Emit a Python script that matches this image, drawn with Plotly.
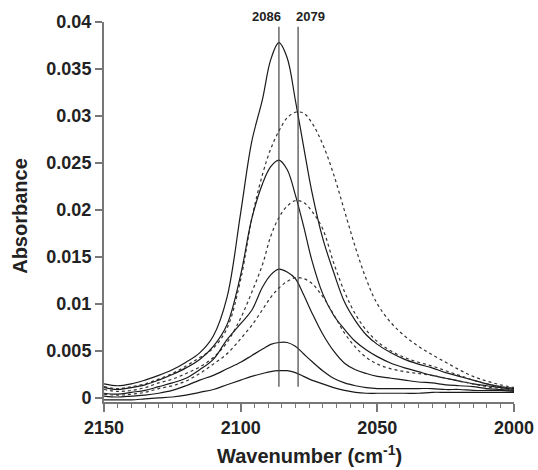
import plotly.graph_objects as go

wavenumber = [2150, 2145, 2140, 2135, 2130, 2125, 2120, 2115, 2110, 2105, 2100, 2096, 2092, 2089,
              2086, 2083, 2080, 2077, 2074, 2070, 2066, 2062, 2058, 2054, 2050, 2045, 2040, 2035,
              2030, 2025, 2020, 2015, 2010, 2005, 2000]

solid_1 = [0.0015, 0.0013, 0.0015, 0.0019, 0.0024, 0.0030, 0.0038, 0.0048, 0.0066, 0.0107, 0.0197, 0.0272, 0.0318, 0.0360,
           0.0378, 0.0362, 0.0317, 0.0268, 0.0220, 0.0170, 0.0134, 0.0102, 0.0082, 0.0067, 0.0057, 0.0048, 0.0041, 0.0036,
           0.0032, 0.0027, 0.0023, 0.0019, 0.0015, 0.0012, 0.0010]
dashed_1 = [0.0012, 0.0010, 0.0012, 0.0015, 0.0020, 0.0026, 0.0034, 0.0043, 0.0053, 0.0074, 0.0126, 0.0190, 0.0238, 0.0265,
            0.0284, 0.0298, 0.0304, 0.0303, 0.0293, 0.0270, 0.0238, 0.0199, 0.0160, 0.0126, 0.0100, 0.0080, 0.0066, 0.0055,
            0.0046, 0.0038, 0.0030, 0.0023, 0.0018, 0.0014, 0.0011]
solid_2 = [0.0011, 0.0009, 0.0011, 0.0014, 0.0019, 0.0025, 0.0032, 0.0041, 0.0055, 0.0078, 0.0131, 0.0190, 0.0228, 0.0246,
           0.0253, 0.0243, 0.0216, 0.0183, 0.0147, 0.0111, 0.0088, 0.0073, 0.0060, 0.0051, 0.0044, 0.0037, 0.0032, 0.0028,
           0.0024, 0.0021, 0.0018, 0.0015, 0.0013, 0.0011, 0.0009]
dashed_2 = [0.0009, 0.0007, 0.0008, 0.0011, 0.0016, 0.0020, 0.0026, 0.0033, 0.0043, 0.0059, 0.0085, 0.0112, 0.0142, 0.0172,
            0.0192, 0.0204, 0.0210, 0.0208, 0.0199, 0.0180, 0.0144, 0.0113, 0.0089, 0.0072, 0.0060, 0.0050, 0.0043, 0.0038,
            0.0034, 0.0029, 0.0024, 0.0019, 0.0015, 0.0012, 0.0010]
solid_3 = [0.0005, 0.0004, 0.0006, 0.0008, 0.0012, 0.0016, 0.0021, 0.0030, 0.0041, 0.0062, 0.0079, 0.0093, 0.0118, 0.0131,
           0.0137, 0.0134, 0.0127, 0.0110, 0.0091, 0.0068, 0.0050, 0.0037, 0.0030, 0.0026, 0.0023, 0.0021, 0.0019, 0.0017,
           0.0016, 0.0014, 0.0013, 0.0012, 0.0010, 0.0009, 0.0008]
dashed_3 = [0.0004, 0.0003, 0.0004, 0.0006, 0.0010, 0.0013, 0.0018, 0.0026, 0.0036, 0.0047, 0.0063, 0.0077, 0.0094, 0.0107,
            0.0117, 0.0124, 0.0128, 0.0127, 0.0122, 0.0108, 0.0089, 0.0069, 0.0054, 0.0043, 0.0036, 0.0031, 0.0028, 0.0026,
            0.0024, 0.0021, 0.0018, 0.0015, 0.0012, 0.0010, 0.0008]
solid_4 = [0.0002, 0.0001, 0.0002, 0.0003, 0.0005, 0.0008, 0.0013, 0.0019, 0.0024, 0.0031, 0.0038, 0.0045, 0.0052, 0.0057,
           0.0059, 0.0059, 0.0055, 0.0047, 0.0039, 0.0029, 0.0021, 0.0016, 0.0013, 0.0011, 0.0010, 0.0010, 0.0010, 0.0010,
           0.0010, 0.0009, 0.0009, 0.0008, 0.0008, 0.0008, 0.0007]
solid_5 = [-0.0002, -0.0002, -0.0002, -0.0001, 0.0000, 0.0001, 0.0003, 0.0006, 0.0009, 0.0014, 0.0019, 0.0023, 0.0026, 0.0028,
           0.0029, 0.0029, 0.0027, 0.0023, 0.0019, 0.0015, 0.0011, 0.0008, 0.0006, 0.0005, 0.0005, 0.0005, 0.0005, 0.0005,
           0.0006, 0.0006, 0.0006, 0.0006, 0.0006, 0.0006, 0.0006]

marker_positions = [2086, 2079]
marker_labels = ["2086", "2079"]
marker_span = [0.0012, 0.0395]

x_tickvals = [2150, 2100, 2050, 2000]
y_tickvals = [0, 0.005, 0.01, 0.015, 0.02, 0.025, 0.03, 0.035, 0.04]

FONT = "Liberation Sans, Arial, sans-serif"
fig = go.Figure()

series = [
    (solid_1, "solid"), (dashed_1, "dot"), (solid_2, "solid"), (dashed_2, "dot"),
    (solid_3, "solid"), (dashed_3, "dot"), (solid_4, "solid"), (solid_5, "solid"),
]
for vals, dash in series:
    fig.add_trace(go.Scatter(
        x=wavenumber, y=vals, mode="lines",
        line=dict(color="#1a1a1a" if dash == "solid" else "#333333", width=1.2, dash=dash,
                  shape="spline", smoothing=1.0),
        showlegend=False, hoverinfo="skip"))

for pos in marker_positions:
    fig.add_trace(go.Scatter(
        x=[pos, pos], y=marker_span, mode="lines",
        line=dict(color="#444444", width=1.2), showlegend=False, hoverinfo="skip"))

label_anchor = ["right", "left"]
label_shift = [4, -4]
for pos, lab, anc, sh in zip(marker_positions, marker_labels, label_anchor, label_shift):
    fig.add_annotation(x=pos, y=marker_span[1], yref="y", text=lab, showarrow=False,
                       xanchor=anc, xshift=sh, yanchor="bottom", yshift=1,
                       font=dict(family=FONT, size=13, color="#222", weight="bold"))

fig.add_annotation(xref="paper", yref="paper", x=(20 - 104) / 410, y=0.49, text="Absorbance", textangle=-90,
                   xanchor="center", yanchor="middle",
                   showarrow=False, font=dict(family=FONT, size=20, color="#222", weight="bold"))
fig.add_annotation(xref="paper", yref="paper", x=0.5, y=-(454 - 402) / 380, yanchor="middle",
                   text="Wavenumber (cm<sup>-1</sup>)",
                   showarrow=False, font=dict(family=FONT, size=20, color="#222", weight="bold"))

fig.update_layout(
    width=538, height=470,
    margin=dict(l=104, r=24, t=22, b=68),
    paper_bgcolor="white", plot_bgcolor="white",
    font=dict(family=FONT, size=18, color="#222"),
    xaxis=dict(range=[2150, 2000], tickvals=x_tickvals, ticks="outside", ticklen=8, tickwidth=1.5,
               tickcolor="#777", showline=True, linecolor="#777", linewidth=2, showgrid=False,
               zeroline=False, automargin=False,
               tickfont=dict(family=FONT, size=18, color="#222", weight="bold"),
               minor=dict(dtick=5, tick0=2000, ticks="outside", ticklen=4, tickwidth=1.2, tickcolor="#777",
                          showgrid=False)),
    yaxis=dict(range=[-0.00043, 0.04], tickvals=y_tickvals, ticks="outside", ticklen=7, tickwidth=1.5,
               tickcolor="#777", showline=True, linecolor="#777", linewidth=2, showgrid=False,
               zeroline=False, automargin=False,
               tickfont=dict(family=FONT, size=18, color="#222", weight="bold")),
)

fig.write_html("out.html")
